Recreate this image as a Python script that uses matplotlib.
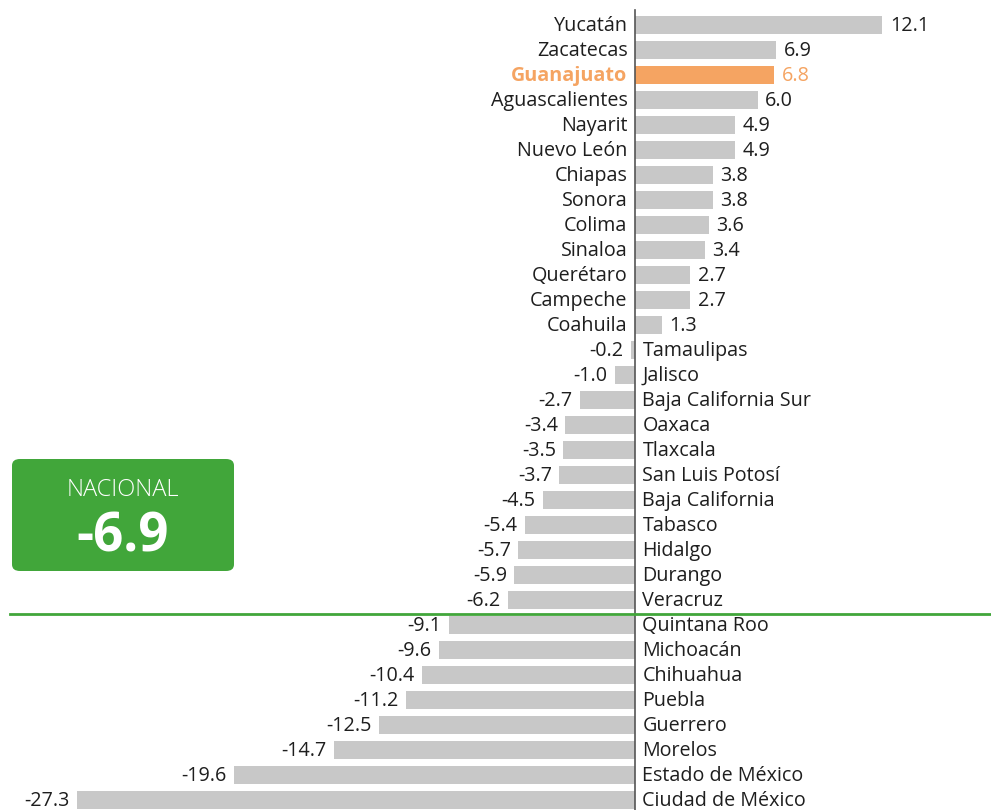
import matplotlib
matplotlib.use("Agg")
import matplotlib.pyplot as plt
from matplotlib.patches import FancyBboxPatch

states = ["Yucatán", "Zacatecas", "Guanajuato", "Aguascalientes", "Nayarit", "Nuevo León",
          "Chiapas", "Sonora", "Colima", "Sinaloa", "Querétaro", "Campeche", "Coahuila",
          "Tamaulipas", "Jalisco", "Baja California Sur", "Oaxaca", "Tlaxcala",
          "San Luis Potosí", "Baja California", "Tabasco", "Hidalgo", "Durango", "Veracruz",
          "Quintana Roo", "Michoacán", "Chihuahua", "Puebla", "Guerrero", "Morelos",
          "Estado de México", "Ciudad de México"]
values = [12.1, 6.9, 6.8, 6.0, 4.9, 4.9, 3.8, 3.8, 3.6, 3.4, 2.7, 2.7, 1.3,
          -0.2, -1.0, -2.7, -3.4, -3.5, -3.7, -4.5, -5.4, -5.7, -5.9, -6.2,
          -9.1, -9.6, -10.4, -11.2, -12.5, -14.7, -19.6, -27.3]
highlight = "Guanajuato"
national_label = "NACIONAL"
national_value = -6.9

FONT = ["Open Sans", "DejaVu Sans"]
plt.rcParams["font.family"] = FONT

W, H = 991, 810
fig = plt.figure(figsize=(W / 100, H / 100), dpi=100)
ax = fig.add_axes([0, 0, 1, 1])
ppu = 20.45
x0px = 635
ax.set_xlim(-x0px / ppu, (W - x0px) / ppu)
ax.set_ylim((H - 25) / 25, -1)
ax.axis("off")

grey = "#c8c8c8"
orange = "#f5a462"
green = "#41a63a"
txt = "#1e1e1e"
pad = 7.5 / ppu
fs = 14.2
dy = 0.04

ys = list(range(len(states)))
colors = [orange if s == highlight else grey for s in states]
ax.barh(ys, values, height=0.72, color=colors, zorder=2)

for y, s, v in zip(ys, states, values):
    c = orange if s == highlight else txt
    w = "bold" if s == highlight else "normal"
    if v >= 0:
        ax.text(-pad, y + dy, s, ha="right", va="center", fontsize=fs, color=c, fontweight=w)
        ax.text(v + pad, y + dy, f"{v:.1f}", ha="left", va="center", fontsize=fs, color=c)
    else:
        ax.text(pad, y + dy, s, ha="left", va="center", fontsize=fs, color=c, fontweight=w)
        ax.text(v - pad, y + dy, f"{v:.1f}", ha="right", va="center", fontsize=fs, color=c)

ax.plot([0, 0], [-0.6, (H - 25) / 25], color="#555555", lw=1.2, zorder=3)

# national reference line
nat_idx = sum(1 for v in values if v > national_value) - 0.5 + 0.06
ax.plot([(10 - x0px) / ppu, (W - x0px) / ppu], [nat_idx, nat_idx], color=green, lw=2, zorder=4)

# national box (figure coords)
bx0, by0, bx1, by1 = 12 / W, 1 - 571 / H, 234 / W, 1 - 459 / H
box = FancyBboxPatch((bx0, by0), bx1 - bx0, by1 - by0,
                     boxstyle="round,pad=0,rounding_size=0.008",
                     transform=fig.transFigure, facecolor=green, edgecolor="none")
fig.patches.append(box)
fig.text((bx0 + bx1) / 2, 1 - 490 / H, national_label, ha="center", va="center",
         color="white", fontsize=17, fontweight="light")
fig.text((bx0 + bx1) / 2, 1 - 537 / H, f"{national_value:.1f}", ha="center", va="center",
         color="white", fontsize=38, fontweight="bold")

fig.savefig("out.png", dpi=100)
